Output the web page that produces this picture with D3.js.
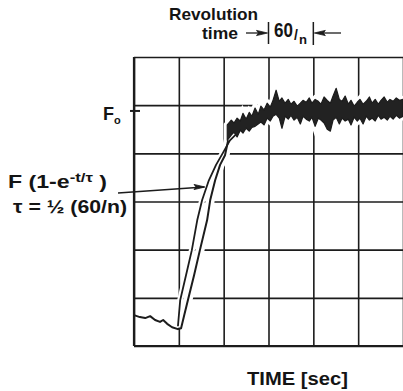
<!DOCTYPE html>
<meta charset="utf-8" />
<html lang="en">
  <head>
    <script src="https://d3js.org/d3.v7.min.js"></script>
    <style>
      body {
        margin: 0;
        background: #fff;
      }
      svg text {
        font-family: "Liberation Sans", Arial, sans-serif;
        font-weight: bold;
        fill: #141414;
      }
      .grid line {
        stroke: #1c1c1c;
        stroke-width: 1.6px;
      }
      .grid path {
        display: none;
      }
    </style>
  </head>
  <body>
    <svg width="403" height="391"></svg>
    <script>
      // grid divisions (one x division = one revolution, 60/n)
      var xTicks = [0, 1, 2, 3, 4, 5, 6];
      var yTicks = [0, 1, 2, 3, 4, 5, 6];
      var forceLevel = 4.88; // F0 marker

      // measured trace: flat part then the rise
      var measT = [0, 0.13, 0.25, 0.36, 0.47, 0.58, 0.65, 0.74, 0.85, 0.98, 1.05,
                   1.12, 1.21, 1.34, 1.47, 1.63, 1.7, 1.81, 1.92, 2.03, 2.1];
      var measF = [0.64, 0.6, 0.58, 0.62, 0.54, 0.5, 0.54, 0.46, 0.39, 0.35, 0.37,
                   0.64, 0.98, 1.47, 1.99, 2.61, 3.03, 3.44, 3.76, 3.96, 4.27];

      // fitted curve F(1-e^-t/tau)
      var fitT = [0.98, 1.03, 1.16, 1.29, 1.41, 1.52, 1.67, 1.83, 1.99, 2.14, 2.37];
      var fitF = [0.41, 0.95, 1.47, 1.99, 2.61, 3.03, 3.44, 3.76, 4.02, 4.27, 4.48];

      // noisy band after the rise: upper and lower edges
      var bandT = [2.08, 2.17, 2.23, 2.3, 2.37, 2.43, 2.5, 2.57, 2.63, 2.7, 2.77, 2.83, 2.9, 2.97,
                   3.04, 3.1, 3.17, 3.24, 3.3, 3.37, 3.44, 3.5, 3.57, 3.64, 3.71, 3.77, 3.84, 3.91, 3.97,
                   4.04, 4.11, 4.17, 4.24, 4.31, 4.38, 4.44, 4.51, 4.58, 4.64, 4.71, 4.78, 4.84, 4.91, 4.98,
                   5.04, 5.11, 5.18, 5.25, 5.31, 5.38, 5.45, 5.51, 5.58, 5.65, 5.71, 5.78, 5.85, 5.92, 6.0];
      var bandHi = [4.59, 4.69, 4.63, 4.73, 4.67, 4.83, 4.71, 4.85, 4.77, 4.94, 4.81, 4.98, 4.9, 5.04,
                    4.96, 5.1, 5.31, 5.08, 5.15, 5.04, 5.12, 5.02, 5.08, 4.98, 5.04, 5.1, 5.06, 5.15, 5.04,
                    5.12, 5.08, 5.02, 5.17, 5.1, 5.04, 5.19, 5.35, 5.12, 5.08, 5.19, 5.02, 5.1, 4.98, 5.06,
                    5.12, 5.02, 5.08, 5.17, 5.04, 5.12, 5.02, 5.1, 5.17, 5.06, 5.12, 5.08, 5.15, 5.1, 5.12];
      var bandLo = [4.27, 4.38, 4.44, 4.34, 4.48, 4.42, 4.52, 4.46, 4.54, 4.56, 4.61, 4.65, 4.59, 4.73,
                    4.67, 4.77, 4.81, 4.73, 4.52, 4.77, 4.71, 4.79, 4.69, 4.75, 4.61, 4.77, 4.71, 4.67, 4.75,
                    4.56, 4.73, 4.69, 4.63, 4.5, 4.46, 4.69, 4.75, 4.61, 4.73, 4.67, 4.71, 4.59, 4.75, 4.67,
                    4.73, 4.61, 4.77, 4.69, 4.73, 4.67, 4.79, 4.71, 4.75, 4.69, 4.77, 4.71, 4.79, 4.73, 4.77];

      var svg = d3.select("svg");
      var ink = "#1c1c1c";

      var x = d3.scaleLinear().domain([0, 6]).range([134, 403]);
      var y = d3.scaleLinear().domain([0, 6]).range([346, 57]);

      // grid
      svg.append("g")
        .attr("class", "grid")
        .attr("transform", "translate(134,0)")
        .call(d3.axisLeft(y).tickValues(yTicks).tickSize(-(403 - 134)).tickFormat(""));
      svg.append("g")
        .attr("class", "grid")
        .attr("transform", "translate(0,346)")
        .call(d3.axisBottom(x).tickValues(xTicks).tickSize(-(346 - 57)).tickFormat(""));
      // heavier frame on left and bottom
      svg.append("line").attr("x1", x(0)).attr("x2", x(0)).attr("y1", y(6)).attr("y2", y(0))
        .attr("stroke", ink).attr("stroke-width", 2.2);
      svg.append("line").attr("x1", x(0)).attr("x2", x(6)).attr("y1", y(0)).attr("y2", y(0))
        .attr("stroke", ink).attr("stroke-width", 2.2);

      var meas = measT.map((t, i) => ({ t: t, f: measF[i] }));
      var fit = fitT.map((t, i) => ({ t: t, f: fitF[i] }));
      var band = bandT.map((t, i) => ({ t: t, hi: bandHi[i], lo: bandLo[i] }));

      var line = d3.line().x(d => x(d.t)).y(d => y(d.f));
      var area = d3.area().x(d => x(d.t)).y0(d => y(d.lo)).y1(d => y(d.hi));

      // white halos, the pen traces break the grid lines
      svg.append("path").datum(band).attr("d", area)
        .attr("fill", "#fff").attr("stroke", "#fff").attr("stroke-width", 7);
      svg.append("path").datum(meas.filter(d => d.t >= 1.05)).attr("d", line)
        .attr("fill", "none").attr("stroke", "#fff").attr("stroke-width", 9);
      svg.append("path").datum(fit).attr("d", line)
        .attr("fill", "none").attr("stroke", "#fff").attr("stroke-width", 6);

      svg.append("path").datum(fit).attr("d", line)
        .attr("fill", "none").attr("stroke", ink).attr("stroke-width", 1.8)
        .attr("stroke-linejoin", "round");
      svg.append("path").datum(meas).attr("d", line)
        .attr("fill", "none").attr("stroke", ink).attr("stroke-width", 2)
        .attr("stroke-linejoin", "round");
      svg.append("path").datum(band).attr("d", area)
        .attr("fill", "#222").attr("stroke", ink).attr("stroke-width", 1.2)
        .attr("stroke-linejoin", "round");

      // F0 marker
      svg.append("line").attr("x1", x(0) - 4).attr("x2", x(0) + 6)
        .attr("y1", y(forceLevel)).attr("y2", y(forceLevel))
        .attr("stroke", ink).attr("stroke-width", 2);
      var f0 = svg.append("text").attr("x", 103).attr("y", 120).attr("font-size", 18);
      f0.append("tspan").text("F");
      f0.append("tspan").attr("font-size", 11).attr("dy", 4).text("o");

      function arrowHead(tx, ty, dir) {
        var p = [[0, 0], [-11 * dir, -2.6], [-9 * dir, 0], [-11 * dir, 2.6]];
        svg.append("path")
          .attr("d", "M" + p.map(q => (tx + q[0]) + "," + (ty + q[1])).join("L") + "Z")
          .attr("fill", ink).attr("stroke", ink).attr("stroke-width", 0.8);
      }

      // formula label and arrow pointing at the fitted curve
      svg.append("line").attr("x1", 118).attr("y1", 193).attr("x2", 204).attr("y2", 187)
        .attr("stroke", ink).attr("stroke-width", 1.5);
      arrowHead(205, 187, 1);

      var l1 = svg.append("text").attr("x", 8).attr("y", 188).attr("font-size", 18)
        .attr("textLength", 99).attr("lengthAdjust", "spacingAndGlyphs");
      l1.append("tspan").text("F (1-e");
      l1.append("tspan").attr("font-size", 13).attr("dy", -6).text("-t/τ");
      l1.append("tspan").attr("dy", 6).text(" )");

      svg.append("text").attr("x", 13).attr("y", 213).attr("font-size", 18)
        .attr("textLength", 114).attr("lengthAdjust", "spacingAndGlyphs")
        .text("τ = ½ (60/n)");

      // revolution time header
      svg.append("text").attr("x", 169).attr("y", 20).attr("font-size", 17)
        .attr("textLength", 89).attr("lengthAdjust", "spacingAndGlyphs").text("Revolution");
      svg.append("text").attr("x", 202).attr("y", 39).attr("font-size", 16)
        .attr("textLength", 36).attr("lengthAdjust", "spacingAndGlyphs").text("time");

      svg.append("line").attr("x1", x(3)).attr("x2", x(3)).attr("y1", 22).attr("y2", 44)
        .attr("stroke", ink).attr("stroke-width", 1.5);
      svg.append("line").attr("x1", x(4)).attr("x2", x(4)).attr("y1", 22).attr("y2", 45)
        .attr("stroke", ink).attr("stroke-width", 1.5);
      svg.append("line").attr("x1", 246).attr("x2", x(3) - 4).attr("y1", 33).attr("y2", 33)
        .attr("stroke", ink).attr("stroke-width", 1.3);
      arrowHead(x(3) - 1, 33, 1);
      svg.append("line").attr("x1", x(4) + 4).attr("x2", 341).attr("y1", 33).attr("y2", 33)
        .attr("stroke", ink).attr("stroke-width", 1.3);
      arrowHead(x(4) + 1, 33, -1);

      svg.append("text").attr("transform", "translate(274,37) scale(1,1.2)")
        .attr("font-size", 17).text("60");
      svg.append("text").attr("x", 294).attr("y", 40).attr("font-size", 14).text("/");
      svg.append("text").attr("x", 299).attr("y", 44).attr("font-size", 12)
        .attr("textLength", 8).attr("lengthAdjust", "spacingAndGlyphs").text("n");

      // axis title
      svg.append("text").attr("x", 247).attr("y", 385).attr("font-size", 18)
        .attr("textLength", 101).attr("lengthAdjust", "spacingAndGlyphs").text("TIME [sec]");
    </script>
  </body>
</html>
